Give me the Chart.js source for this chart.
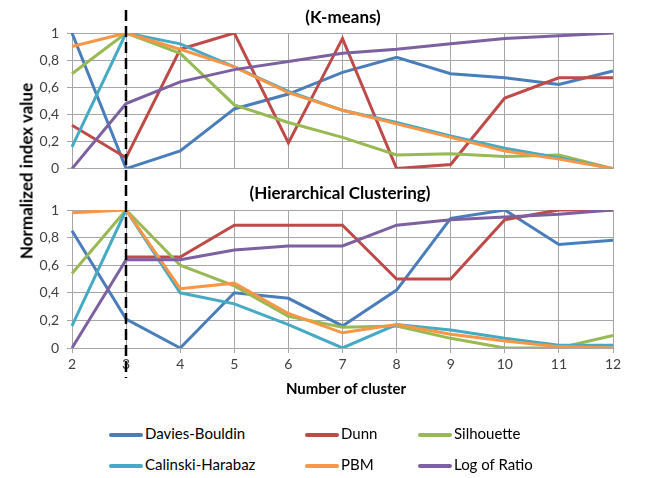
<!DOCTYPE html>
<html>
<head>
<meta charset="utf-8">
<script src="https://cdn.jsdelivr.net/npm/chart.js@4.4.1/dist/chart.umd.min.js"></script>
<style>
  body { margin: 0; background: #fff; font-family: Lato, "Open Sans", sans-serif; }
  #wrap { position: relative; width: 648px; height: 478px; overflow: hidden; }
  canvas { position: absolute; left: 0; }
  .lbl { position: absolute; font-weight: bold; color: #000; white-space: nowrap; }
  .leg { position: absolute; font-size: 15px; color: #000; white-space: nowrap; }
  .leg span { display: inline-block; width: 34px; height: 4px; vertical-align: middle; margin-right: 2px; border-radius: 2px; }
</style>
</head>
<body>
<div id="wrap">
  <canvas id="topChart" width="648" height="185" style="top:0"></canvas>
  <canvas id="botChart" width="648" height="215" style="top:185px"></canvas>

  <div class="lbl" style="left:343px;top:16px;font-size:17px;transform:translate(-50%,-50%)">(K-means)</div>
  <div class="lbl" style="left:340px;top:192px;font-size:17px;transform:translate(-50%,-50%)">(Hierarchical Clustering)</div>
  <div class="lbl" style="left:26px;top:171px;font-size:17px;transform:translate(-50%,-50%) rotate(-90deg)">Normalized index value</div>
  <div class="lbl" style="left:346px;top:388px;font-size:15px;transform:translate(-50%,-50%)">Number of cluster</div>
  <div id="legend"></div>
</div>

<script>
// x values (number of clusters)
var clusters = [2, 3, 4, 5, 6, 7, 8, 9, 10, 11, 12];

// series names + colours
var seriesNames = ['Davies-Bouldin', 'Dunn', 'Silhouette', 'Calinski-Harabaz', 'PBM', 'Log of Ratio'];
var seriesColors = ['#4A7EBB', '#BE4B48', '#98B954', '#46AAC5', '#F79646', '#7D60A0'];

// K-means (top panel)
var kmDavies     = [1.00, 0.00, 0.13, 0.44, 0.55, 0.71, 0.82, 0.70, 0.67, 0.62, 0.72];
var kmDunn       = [0.32, 0.08, 0.88, 1.00, 0.19, 0.96, 0.00, 0.03, 0.52, 0.67, 0.67];
var kmSilhouette = [0.70, 1.00, 0.85, 0.47, 0.34, 0.23, 0.10, 0.11, 0.09, 0.10, 0.00];
var kmCalinski   = [0.16, 1.00, 0.92, 0.75, 0.57, 0.43, 0.34, 0.24, 0.15, 0.08, 0.00];
var kmPBM        = [0.90, 1.00, 0.88, 0.75, 0.56, 0.43, 0.33, 0.23, 0.13, 0.07, 0.00];
var kmLogRatio   = [0.00, 0.48, 0.64, 0.73, 0.79, 0.85, 0.88, 0.92, 0.96, 0.98, 1.00];

// Hierarchical clustering (bottom panel)
var hcDavies     = [0.85, 0.21, 0.00, 0.40, 0.36, 0.16, 0.42, 0.94, 1.00, 0.75, 0.78];
var hcDunn       = [null, 0.66, 0.66, 0.89, 0.89, 0.89, 0.50, 0.50, 0.93, 1.00, 1.00];
var hcSilhouette = [0.54, 1.00, 0.60, 0.45, 0.23, 0.15, 0.16, 0.07, 0.00, 0.00, 0.09];
var hcCalinski   = [0.16, 1.00, 0.40, 0.32, 0.17, 0.00, 0.17, 0.13, 0.07, 0.02, 0.02];
var hcPBM        = [0.98, 1.00, 0.43, 0.47, 0.25, 0.11, 0.17, 0.10, 0.05, 0.01, 0.00];
var hcLogRatio   = [0.00, 0.64, 0.64, 0.71, 0.74, 0.74, 0.89, 0.93, 0.95, 0.97, 1.00];

var gridColor = '#A6A6A6';
var tickFont = { family: 'Lato, "Open Sans", sans-serif', size: 14 };

//build datasets, later series drawn on top like excel
function makeDatasets(list) {
  return list.map(function (vals, i) {
    return {
      label: seriesNames[i],
      data: vals,
      borderColor: seriesColors[i],
      backgroundColor: seriesColors[i],
      borderWidth: 3,
      pointRadius: 0,
      tension: 0,
      fill: false,
      order: list.length - i
    };
  });
}

//vertical dashed marker at k = 3
var dashLine = {
  id: 'dashLine',
  afterDatasetsDraw: function (chart, args, opts) {
    var ctx = chart.ctx;
    var x = Math.round(chart.scales.x.getPixelForValue(clusters.indexOf(3)));
    ctx.save();
    ctx.strokeStyle = '#000';
    ctx.lineWidth = 2.5;
    ctx.setLineDash([11, 5]);
    ctx.beginPath();
    ctx.moveTo(x, opts.from);
    ctx.lineTo(x, opts.to);
    ctx.stroke();
    ctx.restore();
  }
};

function fmtTick(v) {
  var r = Math.round(v * 10) / 10;
  if (r === 0) return '0';
  if (r === 1) return '1';
  return r.toFixed(1).replace('.', ',');
}

function makeConfig(list, isBottom, padTop, xHeight, dashFrom, dashTo) {
  return {
    type: 'line',
    data: { labels: clusters.map(String), datasets: makeDatasets(list) },
    plugins: [dashLine],
    options: {
      responsive: false,
      animation: false,
      layout: { padding: { top: padTop, right: 35, left: 0, bottom: 0 } },
      plugins: {
        legend: { display: false },
        tooltip: { enabled: false },
        dashLine: { from: dashFrom, to: dashTo }
      },
      scales: {
        x: {
          type: 'category',
          offset: false,
          grid: { color: gridColor, drawTicks: isBottom, tickLength: 5 },
          border: { color: gridColor },
          ticks: { display: isBottom, color: '#404040', font: tickFont, padding: 3, maxRotation: 0 },
          afterFit: function (s) { s.height = xHeight; }
        },
        y: {
          min: 0,
          max: 1,
          grid: { color: gridColor, tickLength: 5 },
          border: { color: gridColor },
          ticks: { stepSize: 0.2, color: '#404040', font: tickFont, padding: 8, callback: fmtTick },
          afterFit: function (s) { s.width = 72; }
        }
      }
    }
  };
}

var topChart = new Chart(document.getElementById('topChart'),
  makeConfig([kmDavies, kmDunn, kmSilhouette, kmCalinski, kmPBM, kmLogRatio], false, 33, 12, 10, 185));
var botChart = new Chart(document.getElementById('botChart'),
  makeConfig([hcDavies, hcDunn, hcSilhouette, hcCalinski, hcPBM, hcLogRatio], true, 25, 52, 0, 193));

//legend, 2 rows x 3 columns
var legCols = [109, 305, 418];
var legRows = [434, 465];
var legend = document.getElementById('legend');
seriesNames.forEach(function (name, i) {
  var d = document.createElement('div');
  d.className = 'leg';
  d.style.left = legCols[i % 3] + 'px';
  d.style.top = (legRows[Math.floor(i / 3)] - 10) + 'px';
  d.innerHTML = '<span style="background:' + seriesColors[i] + '"></span>' + name;
  legend.appendChild(d);
});
</script>
</body>
</html>
